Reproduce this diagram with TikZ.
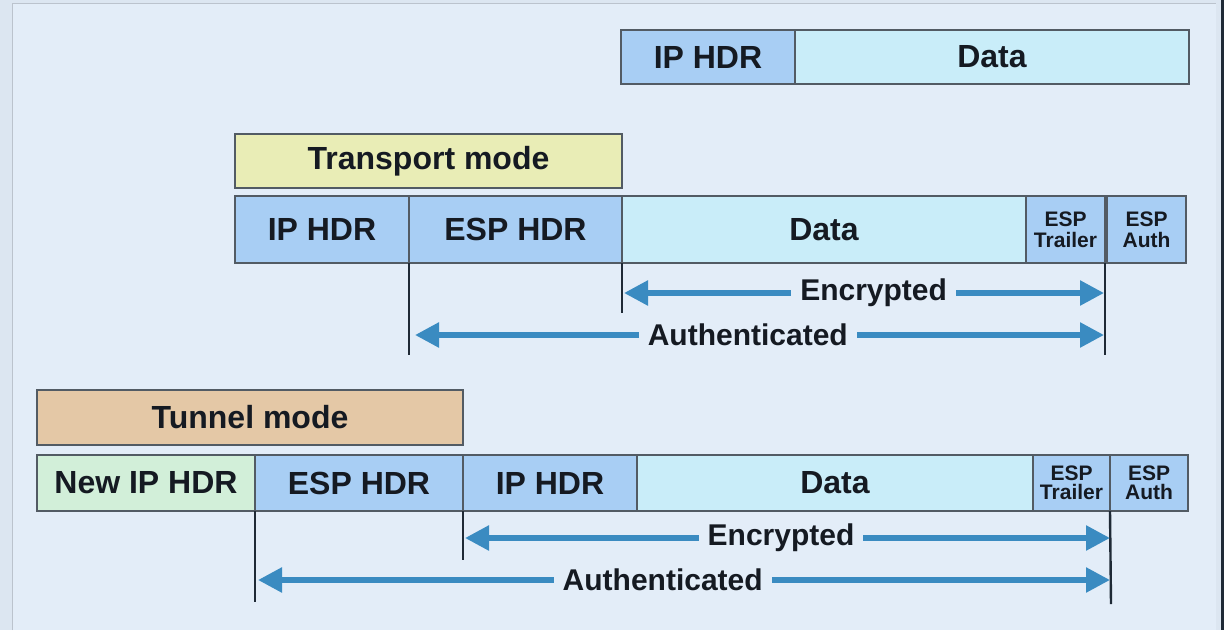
\documentclass[tikz,border=0pt]{standalone}
\usepackage{fontspec}
\setmainfont{Liberation Sans}
\usetikzlibrary{arrows.meta}
\definecolor{bg}{HTML}{E3EDF8}
\definecolor{bgedge}{HTML}{DCE6F1}
\definecolor{hdrblue}{HTML}{A8CEF4}
\definecolor{datacyan}{HTML}{C9EDF9}
\definecolor{newgreen}{HTML}{D2EFD9}
\definecolor{transyellow}{HTML}{E9EDB6}
\definecolor{tunneltan}{HTML}{E4C8A6}
\definecolor{boxline}{HTML}{525B64}
\definecolor{vcol}{HTML}{1F2A36}
\definecolor{arrblue}{HTML}{3A8BC1}
\definecolor{txt}{HTML}{151A22}
\tikzset{
  pkt/.style={draw=boxline, line width=1.8pt, inner sep=0pt, outer sep=0pt,
    text=txt, font=\fontsize{32}{36}\selectfont\bfseries},
  small/.style={pkt, font=\fontsize{21}{22}\selectfont\bfseries, align=center},
  vline/.style={draw=vcol, line width=2.4pt},
  arr/.style={draw=arrblue, line width=5.5pt,
    {Triangle[length=24pt,width=24pt]}-{Triangle[length=24pt,width=24pt]}},
  lbl/.style={fill=bg, text=txt, inner xsep=9pt, inner ysep=2pt,
    font=\fontsize{30}{34}\selectfont\bfseries}
}
\begin{document}
\begin{tikzpicture}[x=1pt,y=-1pt]
\useasboundingbox (0,0) rectangle (1224,630);
\fill[bgedge] (0,0) rectangle (1224,630);
\fill[bg] (12,3) rectangle (1216,630);
\draw[draw=bgedge!85!black, line width=1pt] (12,630) -- (12,3) -- (1216,3);
\fill[vcol] (1221,0) rectangle (1224,630);

% original packet
\node[pkt, fill=hdrblue, minimum width=174pt, minimum height=54pt] (oIP) at (708,57) {IP HDR};
\node[pkt, fill=datacyan, minimum width=394pt, minimum height=54pt] (oData) at (992,57) {Data};

% transport mode
\node[pkt, fill=transyellow, minimum width=387pt, minimum height=54pt] (tMode) at (428.5,161) {Transport mode};
\node[pkt, fill=hdrblue, minimum width=174pt, minimum height=67pt] (tIP) at (322,229.5) {IP HDR};
\node[pkt, fill=hdrblue, minimum width=213pt, minimum height=67pt] (tESP) at (515.5,229.5) {ESP HDR};
\node[pkt, fill=datacyan, minimum width=404pt, minimum height=67pt] (tData) at (824,229.5) {Data};
\node[small, fill=hdrblue, minimum width=79pt, minimum height=67pt] (tTrl) at (1065.5,229.5) {ESP\\[-1pt]Trailer};
\node[small, fill=hdrblue, minimum width=79pt, minimum height=67pt] (tAuth) at (1146.5,229.5) {ESP\\[-1pt]Auth};

\coordinate (tv1) at (409,355);
\coordinate (tv2) at (622,313);
\coordinate (tv3) at (1105,355);
\draw[vline] (tESP.south west) -- (tv1);
\draw[vline] (tData.south west) -- (tv2);
\draw[vline] (tTrl.south east) -- (tv3);

\coordinate (teL) at (624,293);
\coordinate (teR) at (1104,293);
\coordinate (taL) at (415,335);
\coordinate (taR) at (1104,335);
\draw[arr] (teL) -- (teR) node[lbl, pos=0.52] (tEnc) {Encrypted};
\draw[arr] (taL) -- (taR) node[lbl, pos=0.483] (tAut) {Authenticated};

% tunnel mode
\node[pkt, fill=tunneltan, minimum width=426pt, minimum height=55pt] (uMode) at (250,417.5) {Tunnel mode};
\node[pkt, fill=newgreen, minimum width=218pt, minimum height=56pt] (uNew) at (146,483) {New IP HDR};
\node[pkt, fill=hdrblue, minimum width=208pt, minimum height=56pt] (uESP) at (359,483) {ESP HDR};
\node[pkt, fill=hdrblue, minimum width=174pt, minimum height=56pt] (uIP) at (550,483) {IP HDR};
\node[pkt, fill=datacyan, minimum width=396pt, minimum height=56pt] (uData) at (835,483) {Data};
\node[small, fill=hdrblue, minimum width=77pt, minimum height=56pt] (uTrl) at (1071.5,483) {ESP\\[-3pt]Trailer};
\node[small, fill=hdrblue, minimum width=78pt, minimum height=56pt] (uAuth) at (1149,483) {ESP\\[-3pt]Auth};

\coordinate (uv1) at (255,602);
\coordinate (uv2) at (463,560);
\coordinate (uv3) at (1111,604);
\draw[vline] (uESP.south west) -- (uv1);
\draw[vline] (uIP.south west) -- (uv2);
\draw[vline] (uTrl.south east) -- (uv3);

\coordinate (ueL) at (465,538);
\coordinate (ueR) at (1110,538);
\coordinate (uaL) at (258,580);
\coordinate (uaR) at (1110,580);
\draw[arr] (ueL) -- (ueR) node[lbl, pos=0.49] (uEnc) {Encrypted};
\draw[arr] (uaL) -- (uaR) node[lbl, pos=0.475] (uAut) {Authenticated};
\end{tikzpicture}
\end{document}
